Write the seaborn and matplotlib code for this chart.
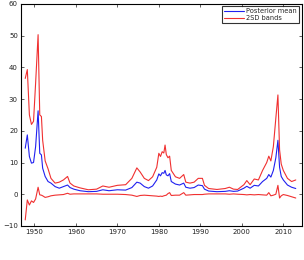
import matplotlib
matplotlib.use("Agg")
import matplotlib.pyplot as plt
import seaborn as sns
import pandas as pd

years = [1947.8, 1948.3, 1948.8, 1949.3, 1949.8, 1950.3, 1950.9, 1951.3, 1951.7, 1952.0,
         1952.6, 1953.3, 1954.0, 1955.0, 1956.0, 1957.0, 1958.0, 1958.6, 1959.5, 1961.0,
         1963.0, 1965.0, 1966.5, 1968.0, 1970.0, 1972.0, 1973.5, 1974.7, 1975.5, 1976.5,
         1977.5, 1978.5, 1979.5, 1980.0, 1980.4, 1980.8, 1981.2, 1981.5, 1981.8, 1982.2,
         1982.6, 1983.0, 1984.0, 1985.0, 1986.0, 1986.5, 1987.5, 1988.5, 1989.5, 1990.5,
         1991.0, 1992.0, 1994.0, 1996.0, 1997.0, 1998.0, 1999.0, 2000.5, 2001.2, 2002.0,
         2003.0, 2004.0, 2005.0, 2006.0, 2006.5, 2007.0, 2007.6, 2008.2, 2008.7, 2009.1,
         2009.5, 2010.0, 2011.0, 2012.0, 2013.0]

posterior_mean = [14.5, 18.7, 11.9, 9.8, 10.0, 15.0, 26.3, 12.9, 12.4, 8.2,
                  5.6, 4.0, 3.5, 2.4, 1.9, 2.4, 2.9, 2.1, 1.6, 1.1,
                  0.8, 0.9, 1.4, 1.1, 1.4, 1.3, 2.1, 3.8, 3.5, 2.4,
                  1.9, 2.6, 4.5, 6.4, 5.8, 6.8, 6.6, 7.5, 6.1, 5.8,
                  6.5, 4.0, 3.2, 2.9, 3.5, 2.2, 1.9, 2.1, 2.9, 2.7,
                  1.6, 1.0, 0.8, 0.9, 1.1, 0.9, 1.0, 1.9, 2.5, 1.9,
                  2.8, 2.6, 4.0, 5.0, 6.2, 5.4, 7.5, 11.5, 17.0, 8.5,
                  5.6, 4.5, 2.9, 2.2, 1.8]

upper_band = [36.5, 39.3, 25.0, 22.0, 23.0, 35.0, 50.3, 25.0, 24.5, 17.0,
              10.5, 8.0, 5.0, 3.5, 3.8, 4.5, 5.6, 3.5, 2.6, 2.0,
              1.4, 1.6, 2.6, 2.2, 2.8, 3.0, 5.0, 8.3, 7.0, 5.0,
              4.3, 5.5, 8.5, 12.9, 11.9, 13.4, 13.0, 15.5, 12.5, 11.5,
              12.0, 7.5, 5.5, 5.0, 6.2, 3.8, 3.5, 3.8, 5.0, 5.0,
              2.8, 1.8, 1.5, 1.8, 2.2, 1.6, 1.5, 3.0, 4.3, 3.0,
              4.8, 4.5, 7.5, 10.0, 12.0, 10.5, 15.0, 24.0, 31.3, 14.0,
              9.5, 7.5, 5.0, 4.0, 4.5]

lower_band = [-8.1, -1.8, -3.4, -2.1, -2.6, -1.5, 2.2, -0.2, -0.3, -0.5,
              -1.0, -0.8, -0.5, -0.3, -0.2, -0.1, 0.3, 0.0, 0.1, 0.1,
              0.1, 0.1, 0.0, 0.0, 0.0, -0.1, -0.3, -0.7, -0.4, -0.3,
              -0.4, -0.5, -0.6, -0.7, -0.6, -0.7, -0.5, -0.4, -0.3, 0.2,
              0.5, -0.4, -0.3, -0.3, 0.5, -0.3, -0.2, -0.1, -0.1, -0.1,
              0.0, 0.1, 0.1, 0.1, 0.0, 0.1, 0.0, -0.1, -0.2, -0.1,
              -0.2, -0.1, -0.2, -0.3, 0.5, -0.5, -0.3, 0.0, 2.8, -1.2,
              -0.5, -0.1, -0.4, -0.8, -1.2]

x_ticks = [1950, 1960, 1970, 1980, 1990, 2000, 2010]
y_ticks = [-10, 0, 10, 20, 30, 40, 50, 60]

sns.set_style("white")
plt.rcParams['font.family'] = ['DejaVu Sans']

df = pd.DataFrame({"year": years, "mean": posterior_mean,
                   "upper": upper_band, "lower": lower_band})

fig = plt.figure(figsize=(3.04, 2.60), dpi=100)
ax = fig.add_axes([0.068, 0.131, 0.924, 0.854])

blue = "#2020f0"
red = "#f03030"
sns.lineplot(data=df, x="year", y="mean", ax=ax, color=blue, lw=0.8, label="Posterior mean")
sns.lineplot(data=df, x="year", y="upper", ax=ax, color=red, lw=0.8, label="2SD bands")
sns.lineplot(data=df, x="year", y="lower", ax=ax, color=red, lw=0.8, label="_nolegend_")

ax.set_xlim(1946.7, 2014.4)
ax.set_ylim(-10, 60)
ax.set_xticks(x_ticks)
ax.set_yticks(y_ticks)
ax.set_xlabel("")
ax.set_ylabel("")
ax.tick_params(direction="in", length=2, width=0.5, labelsize=5, top=True, right=True,
               bottom=True, left=True, pad=2, colors="#222222")
for s in ax.spines.values():
    s.set_linewidth(0.8)
    s.set_color("black")

leg = ax.legend(loc="upper right", fontsize=4.8, frameon=True, fancybox=False,
                edgecolor="black", borderpad=0.3, labelspacing=0.1,
                handlelength=3.0, handletextpad=0.4, borderaxespad=0.35)
leg.get_frame().set_linewidth(0.8)

fig.savefig("out.png", dpi=100)
